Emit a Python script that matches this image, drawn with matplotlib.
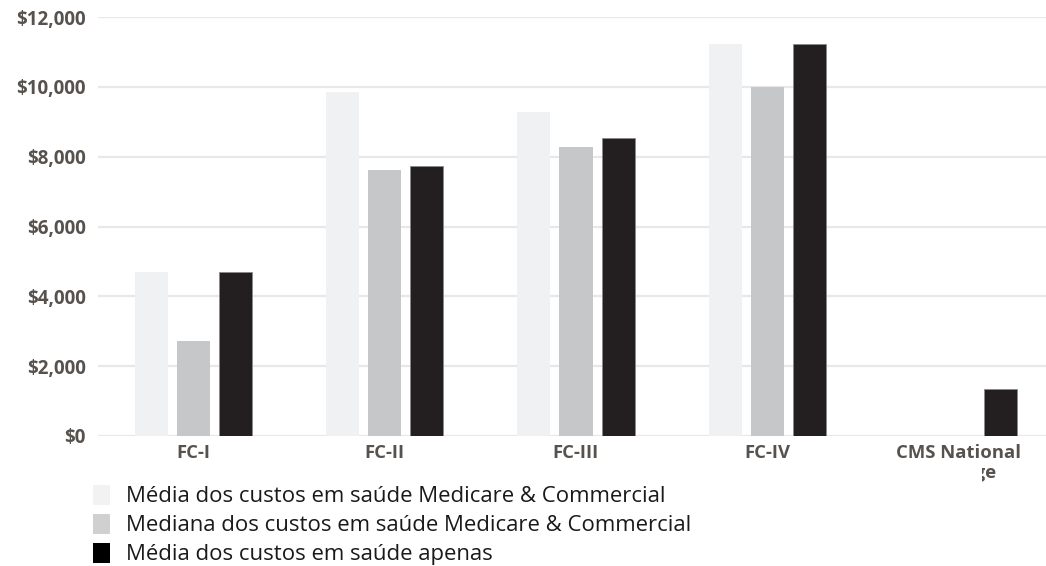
import numpy as np
import matplotlib
matplotlib.use('Agg')
import matplotlib.pyplot as plt
from matplotlib.patches import Patch, Rectangle
from matplotlib.ticker import FuncFormatter

categories = ['FC-I', 'FC-II', 'FC-III', 'FC-IV', 'CMS National\nAverage']
mean_mc = [4700, 9840, 9290, 11220, 0]
median_mc = [2720, 7620, 8270, 10000, 0]
mean_only = [4700, 7740, 8540, 11220, 1340]
series_labels = [
    'Média dos custos em saúde Medicare & Commercial',
    'Mediana dos custos em saúde Medicare & Commercial',
    'Média dos custos em saúde apenas',
]
yticks = [0, 2000, 4000, 6000, 8000, 10000, 12000]

colors = ['#f0f1f3', '#c6c7c9', '#231f20']
W, H = 1046, 566

fig = plt.figure(figsize=(W / 100, H / 100), dpi=100)
ax = fig.add_axes([98 / W, 1 - 436 / H, (1054 - 98) / W, (436 - 17) / H])

x = np.arange(len(categories))
width = 0.173
step = 0.22
for i, (vals, c) in enumerate(zip([mean_mc, median_mc, mean_only], colors)):
    edge = '#8a8a8a' if i == 2 else c
    ax.bar(x + (i - 1) * step, vals, width, color=c, edgecolor=edge,
           linewidth=0.6 if i == 2 else 0, zorder=3)

ax.set_xlim(-0.5, 4.5)
ax.set_ylim(0, 12000)
ax.set_yticks(yticks)
ax.yaxis.set_major_formatter(FuncFormatter(lambda v, p: '${:,.0f}'.format(v)))
ax.grid(axis='y', color='#e8e8e8', linewidth=1.6, zorder=0)
ax.set_axisbelow(True)
for s in ax.spines.values():
    s.set_visible(False)
ax.tick_params(length=0)
ax.tick_params(axis='y', pad=9)
ax.tick_params(axis='x', pad=6)
ax.set_xticks(x)
ax.set_xticklabels(categories, linespacing=1.15)
for lab in ax.get_xticklabels() + ax.get_yticklabels():
    lab.set_fontfamily('Open Sans')
    lab.set_fontweight('bold')
    lab.set_fontsize(13.3)
    lab.set_color('#57524e')
for lab in ax.get_yticklabels():
    lab.set_fontsize(13.5)
    lab.set_horizontalalignment('right')

# the second line of the last label is covered in the original
fig.add_artist(Rectangle((860 / W, 1 - 494 / H), 122 / W, 29 / H,
                         transform=fig.transFigure, facecolor='white',
                         edgecolor='none', zorder=10))

handles = [Patch(facecolor=c, edgecolor='none') for c in ['#f2f2f2', '#d0d0d0', '#000000']]
leg = fig.legend(handles, series_labels, loc='upper left',
                 bbox_to_anchor=(84 / W, 1 - 476 / H), frameon=False,
                 prop={'family': 'Open Sans', 'size': 15.9},
                 handlelength=0.77, handleheight=1.0, handletextpad=0.72,
                 labelspacing=0.3, borderaxespad=0)
leg.set_zorder(11)
for t in leg.get_texts():
    t.set_color('#1a1a1a')

fig.savefig('out.png', dpi=100)
